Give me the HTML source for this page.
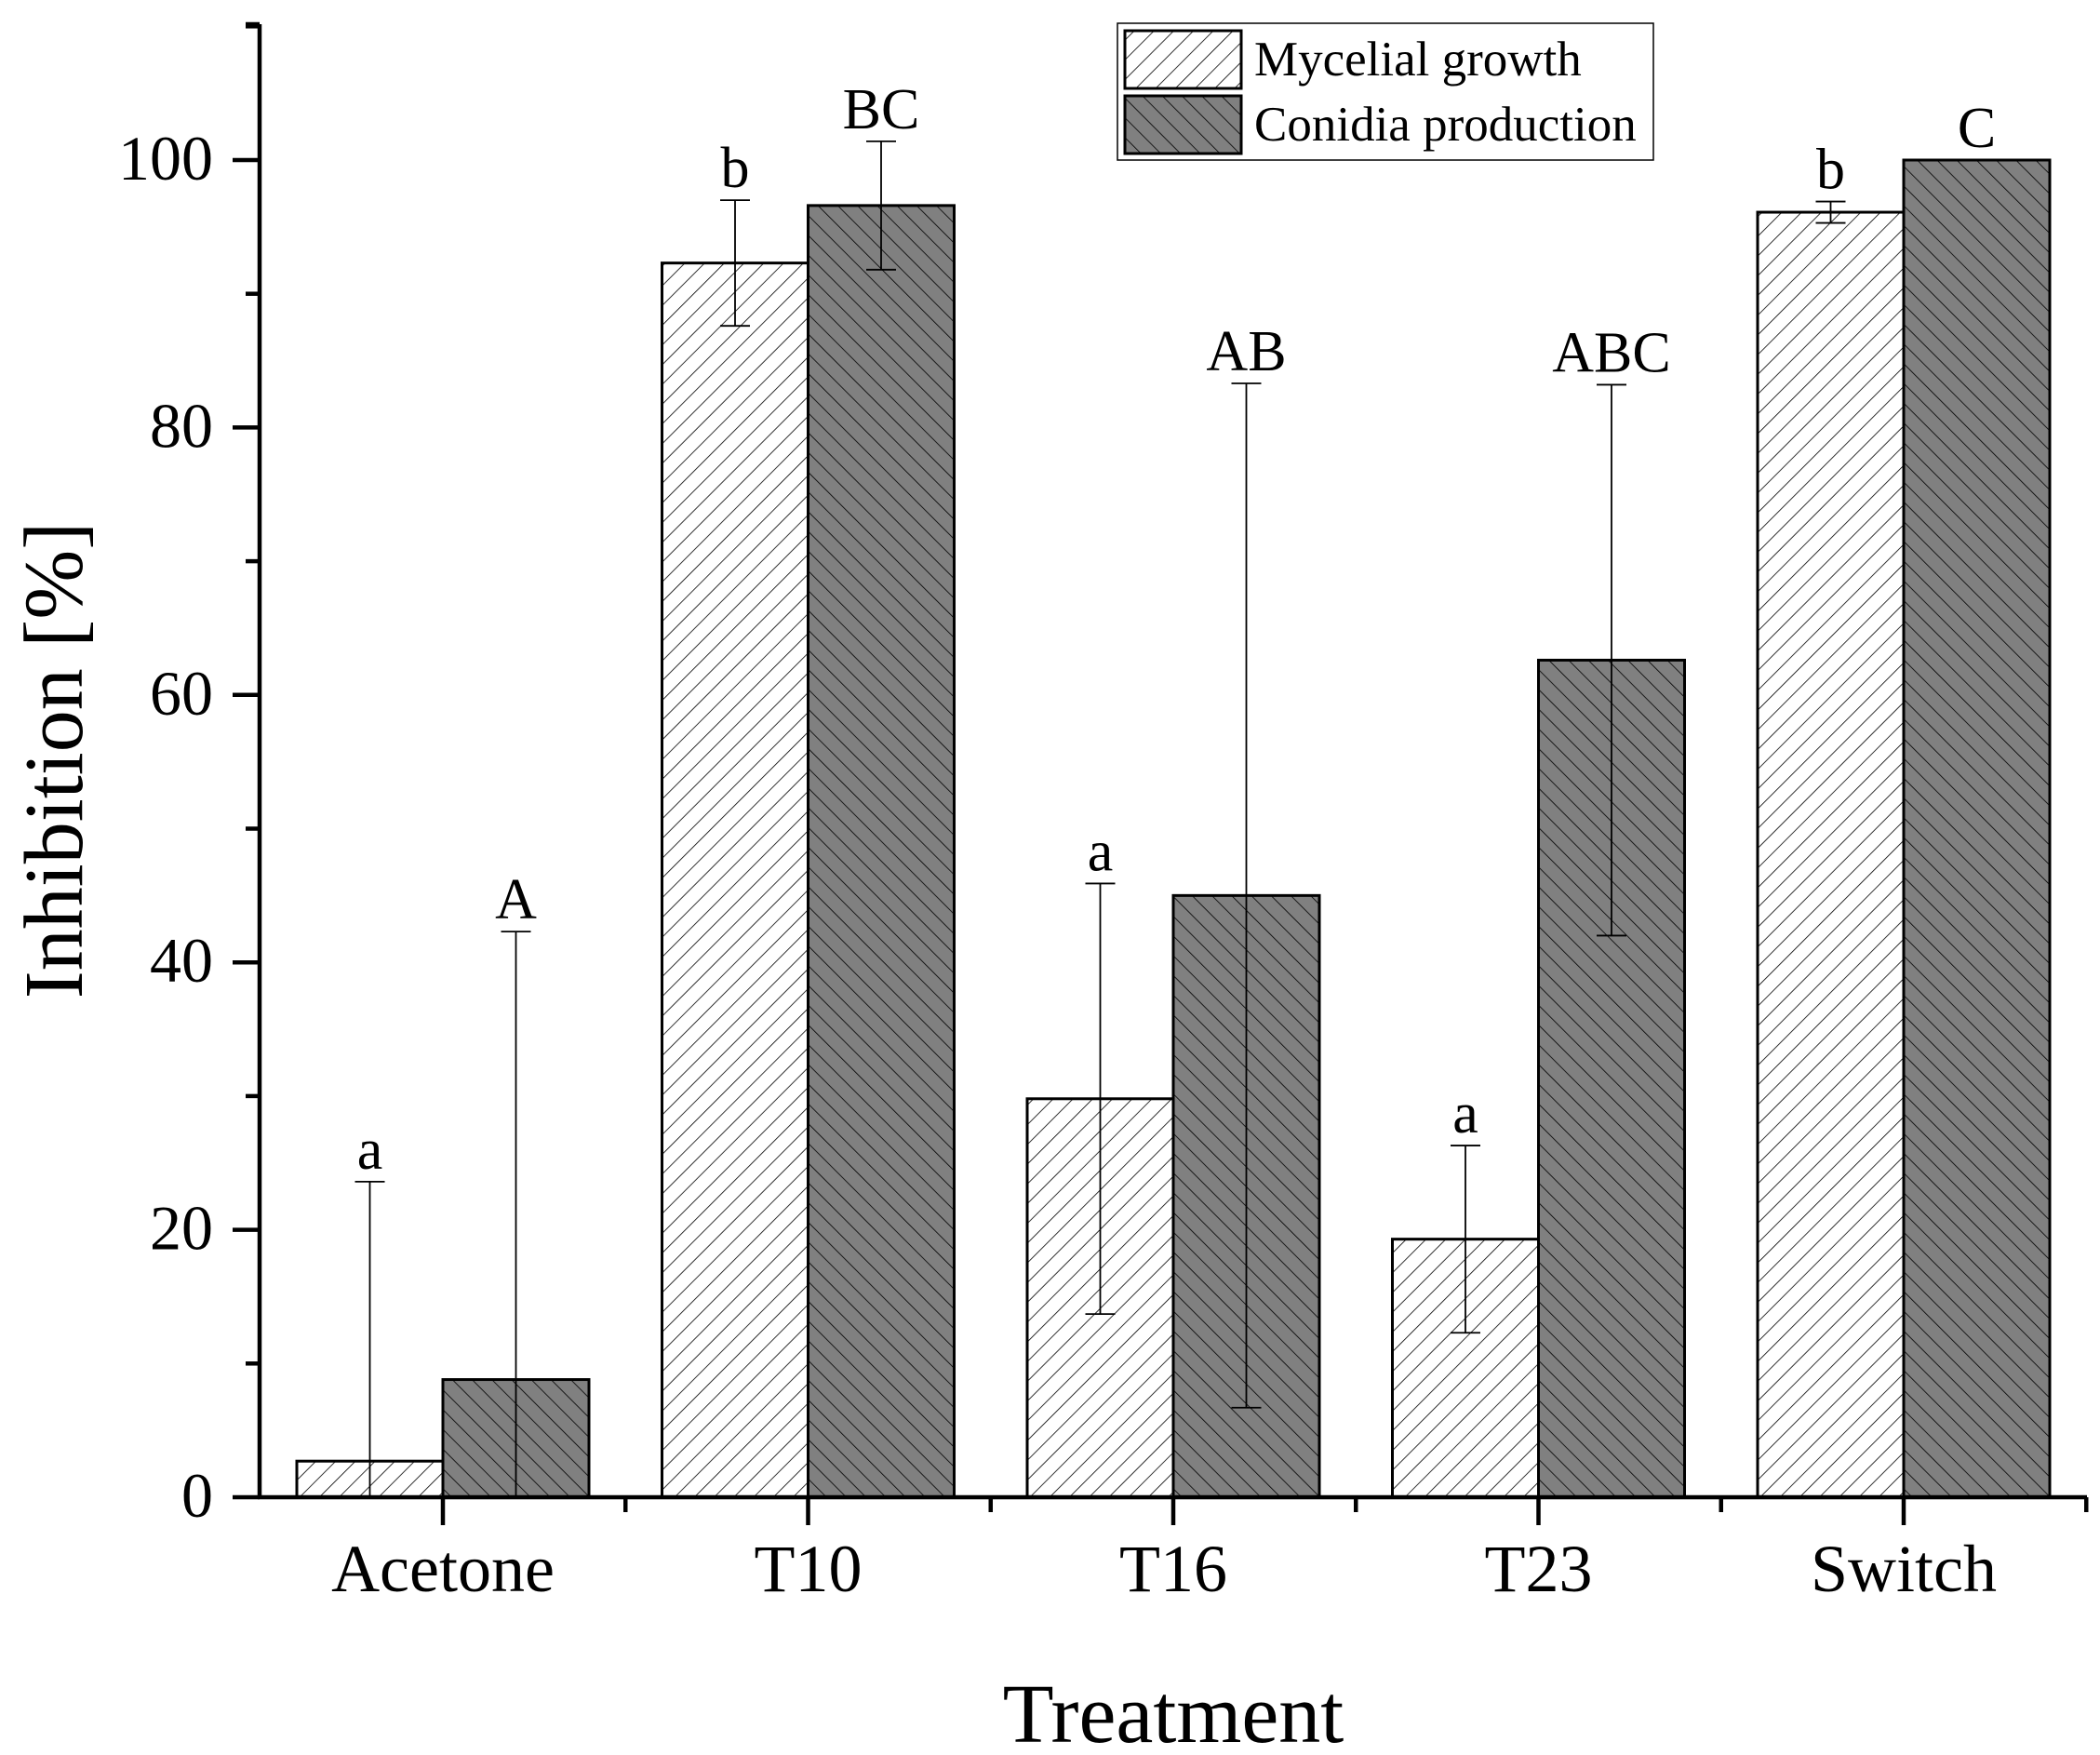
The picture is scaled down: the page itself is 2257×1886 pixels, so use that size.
<!DOCTYPE html>
<html><head><meta charset="utf-8"><style>
html,body{margin:0;padding:0;background:#fff;}
svg{display:block;font-family:"Liberation Serif",serif;}
</style></head><body>
<svg id="chart" width="2257" height="1886" viewBox="0 0 2257 1886" xmlns="http://www.w3.org/2000/svg">
<defs>
<pattern id="hatchA" patternUnits="userSpaceOnUse" width="15" height="15" patternTransform="rotate(45)">
<rect width="15" height="15" fill="#fff"/><line x1="0" y1="0" x2="0" y2="15" stroke="#000" stroke-width="1.6"/></pattern>
<pattern id="hatchB" patternUnits="userSpaceOnUse" width="15" height="15" patternTransform="rotate(-45)">
<rect width="15" height="15" fill="#808080"/><line x1="0" y1="0" x2="0" y2="15" stroke="#000" stroke-width="1.6"/></pattern>
</defs>
<g id="bars"></g>
<g id="axes"></g>
<g id="legend">
<rect x="1201" y="25" width="576" height="147" fill="#fff" stroke="#000" stroke-width="1.5"/>
<rect x="1209" y="33" width="125" height="62" fill="url(#hatchA)" stroke="#000" stroke-width="3"/>
<text x="1348" y="81" font-size="53">Mycelial growth</text>
<rect x="1209" y="103" width="125" height="62" fill="url(#hatchB)" stroke="#000" stroke-width="3"/>
<text x="1348" y="151" font-size="53">Conidia production</text>
</g>
<text transform="translate(88,817) rotate(-90)" text-anchor="middle" font-size="90">Inhibition [%]</text>
<text x="1261" y="1872" text-anchor="middle" font-size="90">Treatment</text>
</svg>
<script>
const categories = ["Acetone","T10","T16","T23","Switch"];
const mycelial = [2.7, 92.3, 29.8, 19.3, 96.1];
const mycelialErr = [20.9, 4.7, 16.1, 7.0, 0.8];
const conidia = [8.8, 96.6, 45.0, 62.6, 100];
const conidiaErr = [33.5, 4.8, 38.3, 20.6, 0];
const mycelialLetters = ["a","b","a","a","b"];
const conidiaLetters = ["A","BC","AB","ABC","C"];
const yTicks = [0,20,40,60,80,100];
const yMinor = [10,30,50,70,90,110];

const NS = "http://www.w3.org/2000/svg";
const X0 = 279, Y0 = 1609, YSCALE = 14.37, CAT0 = 476, STEP = 392.5, BW = 157, XEND = 2243, YTOP = 26;
function y(v){ return Y0 - v*YSCALE; }
function x(i){ return CAT0 + i*STEP; }
function mk(tag, attrs, parent){ const e=document.createElementNS(NS,tag); for(const k in attrs) e.setAttribute(k,attrs[k]); parent.appendChild(e); return e; }

const bars = document.getElementById('bars');
const axes = document.getElementById('axes');

function drawSeries(vals, errs, letters, offset, fill, name){
  vals.forEach((v,i)=>{
    const left = x(i) + offset;
    const r = mk('rect',{x:left, y:y(v), width:BW, height:Y0-y(v), fill:fill, stroke:'#000','stroke-width':3}, bars);
    
    
    const cx = left + BW/2;
    const top = v + errs[i];
    const bot = Math.max(0, v - errs[i]);
    const g = mk('g',{}, bars);
    
    
    if (errs[i] > 0) {
      mk('line',{x1:cx,y1:y(top),x2:cx,y2:y(bot),stroke:'#000','stroke-width':1.8}, g);
      mk('line',{x1:cx-16,y1:y(top),x2:cx+16,y2:y(top),stroke:'#000','stroke-width':1.8}, g);
      if (bot > 0) mk('line',{x1:cx-16,y1:y(bot),x2:cx+16,y2:y(bot),stroke:'#000','stroke-width':1.8}, g);
    }
    const t = mk('text',{x:cx, y:y(top)-14, 'text-anchor':'middle','font-size':62}, bars);
    t.textContent = letters[i];
    
    
  });
}
drawSeries(mycelial, mycelialErr, mycelialLetters, -BW, 'url(#hatchA)', 'mycelial');
drawSeries(conidia, conidiaErr, conidiaLetters, 0, 'url(#hatchB)', 'conidia');

const ya = mk('line',{x1:X0,y1:YTOP,x2:X0,y2:Y0+2,stroke:'#000','stroke-width':4.5}, axes);


const xa = mk('line',{x1:X0-2,y1:Y0,x2:XEND,y2:Y0,stroke:'#000','stroke-width':4.5}, axes);


mk('line',{x1:X0-15,y1:YTOP,x2:X0,y2:YTOP,stroke:'#000','stroke-width':4.5}, axes);

yTicks.forEach(v=>{
  mk('line',{x1:X0-29,y1:y(v),x2:X0,y2:y(v),stroke:'#000','stroke-width':4.5}, axes);
  const t = mk('text',{x:X0-50, y:y(v)+21, 'text-anchor':'end','font-size':68}, axes);
  t.textContent = v;
  
  
});
yMinor.forEach(v=>{
  if (y(v) > YTOP) mk('line',{x1:X0-15,y1:y(v),x2:X0,y2:y(v),stroke:'#000','stroke-width':4.5}, axes);
});
categories.forEach((c,i)=>{
  mk('line',{x1:x(i),y1:Y0,x2:x(i),y2:Y0+30,stroke:'#000','stroke-width':4.5}, axes);
  mk('line',{x1:x(i)+STEP/2,y1:Y0,x2:x(i)+STEP/2,y2:Y0+16,stroke:'#000','stroke-width':4.5}, axes);
  const t = mk('text',{x:x(i), y:1710, 'text-anchor':'middle','font-size':72}, axes);
  t.textContent = c;
  
  
});
</script>
</body></html>
